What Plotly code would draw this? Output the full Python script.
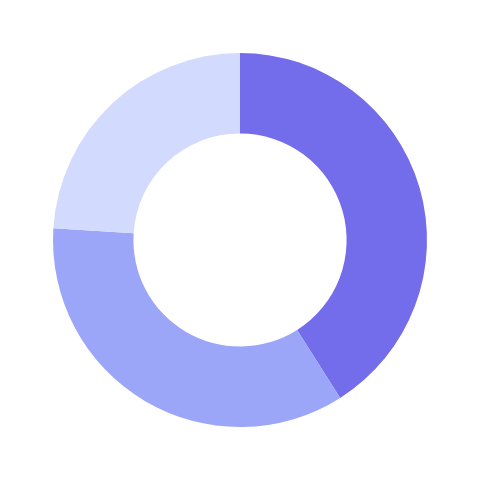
import plotly.graph_objects as go

labels = ["A", "B", "C"]
values = [41, 35, 24]
colors = ["#736CEB", "#9BA6F8", "#D2DBFE"]

fig = go.Figure(go.Pie(
    labels=labels,
    values=values,
    hole=0.57,
    sort=False,
    direction="clockwise",
    rotation=0,
    marker=dict(colors=colors, line=dict(width=0)),
    textinfo="none",
    hoverinfo="label+value",
))
fig.update_layout(
    width=480, height=480,
    margin=dict(l=45, r=61, t=45, b=61),
    showlegend=False,
    paper_bgcolor="white",
    plot_bgcolor="white",
)
fig.write_html("out.html")
